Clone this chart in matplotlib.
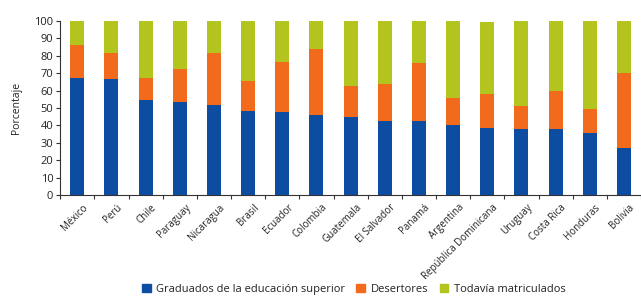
import matplotlib
matplotlib.use("Agg")
import matplotlib.pyplot as plt
import numpy as np
from matplotlib.patches import Patch

plt.rcParams['font.family'] = ['Open Sans', 'DejaVu Sans']

countries = ["México", "Perú", "Chile", "Paraguay", "Nicaragua", "Brasil", "Ecuador",
             "Colombia", "Guatemala", "El Salvador", "Panamá", "Argentina",
             "República Dominicana", "Uruguay", "Costa Rica", "Honduras", "Bolivia"]
graduados = [67, 66.5, 54.6, 53.5, 51.5, 48.3, 47.5, 46, 44.6, 42.3, 42.3, 40, 38.3, 37.7, 37.7, 35.4, 26.8]
# cumulative tops (graduados + desertores)
acumulado = [86.2, 81.4, 67, 72.3, 81.4, 65.5, 76.6, 83.7, 62.6, 63.8, 75.7, 55.9, 58, 51.1, 60, 49.2, 69.9]
total = [100, 100, 100, 100, 100, 100, 100, 100, 100, 100, 100, 100, 99.2, 100, 100, 100, 100]

desertores = [a - g for a, g in zip(acumulado, graduados)]
matriculados = [t - a for t, a in zip(total, acumulado)]

c_blue = "#0d4da1"
c_orange = "#f26a1b"
c_green = "#b3c41e"

fig = plt.figure(figsize=(6.41, 2.96), dpi=100)
ax = fig.add_axes([0.094, 0.341, 0.906, 0.588])

x = np.arange(len(countries))
w = 0.41
ax.bar(x, graduados, w, color=c_blue, label="Graduados de la educación superior")
ax.bar(x, desertores, w, bottom=graduados, color=c_orange, label="Desertores")
ax.bar(x, matriculados, w, bottom=acumulado, color=c_green, label="Todavía matriculados")

ax.set_xlim(-0.5, len(countries) - 0.5)
ax.set_ylim(0, 100)
ax.set_yticks(np.arange(0, 101, 10))
ax.tick_params(axis='y', labelsize=8, length=3, width=0.8, color="#333333", pad=2, labelcolor="#222222")
ax.set_ylabel("Porcentaje", fontsize=7.5, labelpad=9, color="#222222")

ax.set_xticks(x + 0.15)
ax.set_xticklabels(countries, rotation=45, ha='right', rotation_mode='anchor', fontsize=7, color="#222222")
ax.tick_params(axis='x', which='major', length=0, pad=5)
ax.set_xticks(np.arange(-0.5, len(countries), 1), minor=True)
ax.tick_params(axis='x', which='minor', length=3, width=0.8, color="#333333")

for s in ["top", "right"]:
    ax.spines[s].set_visible(False)
for s in ["left", "bottom"]:
    ax.spines[s].set_color("#333333")
    ax.spines[s].set_linewidth(0.8)

handles = [Patch(color=c_blue, label="Graduados de la educación superior"),
           Patch(color=c_orange, label="Desertores"),
           Patch(color=c_green, label="Todavía matriculados")]
fig.legend(handles=handles, loc='center', bbox_to_anchor=(0.552, 0.022), ncol=3, frameon=False,
           fontsize=8, handlelength=0.8, handleheight=0.8, handletextpad=0.5, columnspacing=1.0,
           borderaxespad=0, labelcolor="#222222")

fig.savefig("out.png", dpi=100)
